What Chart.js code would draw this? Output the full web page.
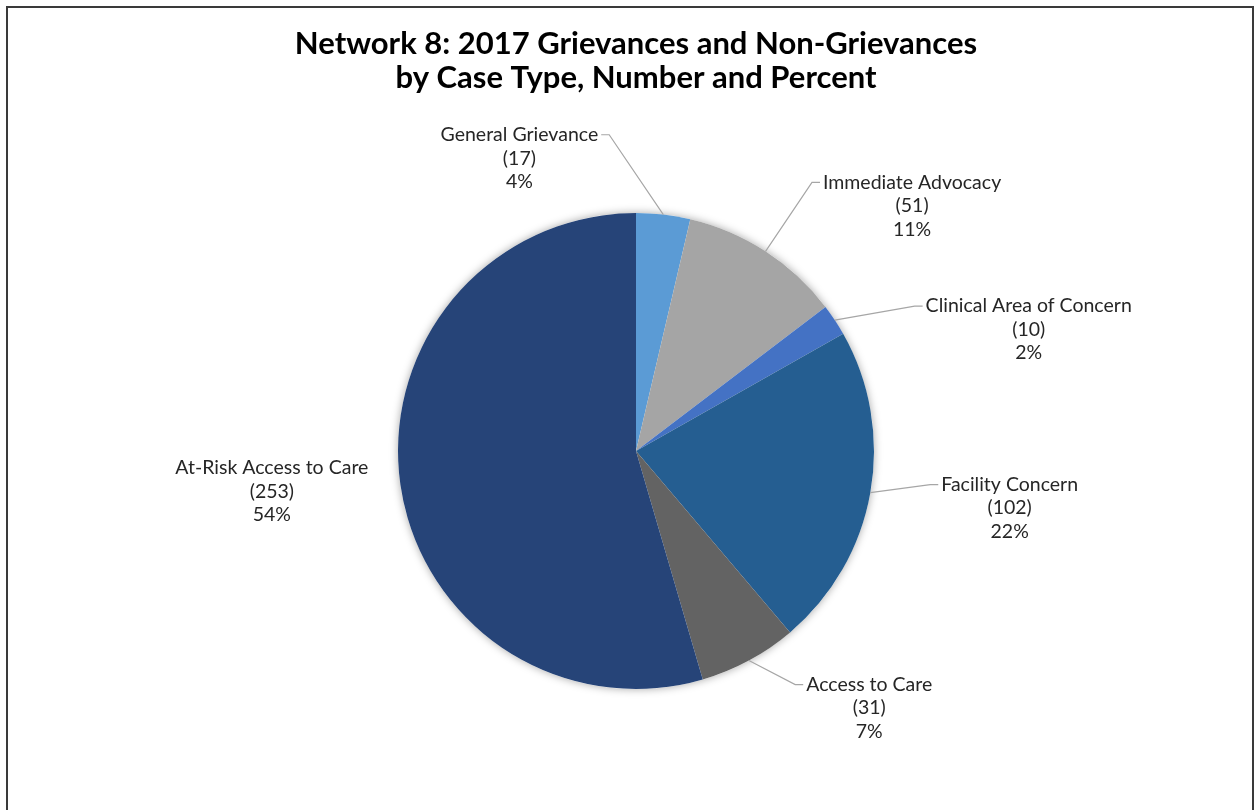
<!DOCTYPE html>
<html lang="en">
<head>
    <meta charset="UTF-8">
    <title>Network 8: 2017 Grievances and Non-Grievances</title>
    <script src="https://cdn.jsdelivr.net/npm/chart.js"></script>
    <style>
        html, body { margin: 0; padding: 0; background: #fff; }
        #wrap { position: relative; width: 1256px; height: 810px; }
    </style>
</head>
<body>
    <div id="wrap"><canvas id="caseChart" width="1256" height="810"></canvas></div>

    <script>
        // data
        const caseTypes = ['General Grievance', 'Immediate Advocacy', 'Clinical Area of Concern',
                           'Facility Concern', 'Access to Care', 'At-Risk Access to Care'];
        const caseCounts = [17, 51, 10, 102, 31, 253];
        const casePercents = ['4%', '11%', '2%', '22%', '7%', '54%'];
        const sliceColors = ['#5b9bd5', '#a5a5a5', '#4472c4', '#255e91', '#636363', '#264478'];

        // label centres, in units of the pie radius from the pie centre
        const labelSpots = [
            [-0.49, -1.23], [1.16, -1.03], [1.65, -0.51],
            [1.57, 0.24], [0.98, 1.08], [-1.53, 0.17]
        ];
        const hasLeader = [true, true, true, true, true, false];
        const FONT = 'Lato, "Open Sans", sans-serif';

        const frame = {
            id: 'frame',
            beforeDraw(chart) {
                const ctx = chart.ctx;
                ctx.save();
                ctx.strokeStyle = '#3a3a3a';
                ctx.lineWidth = 2;
                ctx.strokeRect(7, 7, 1246, 900);
                ctx.restore();
            },
            beforeDatasetsDraw(chart) {
                // soft shadow under the pie
                const arc = chart.getDatasetMeta(0).data[0];
                const ctx = chart.ctx;
                ctx.save();
                ctx.shadowColor = 'rgba(0,0,0,0.35)';
                ctx.shadowBlur = 9;
                ctx.fillStyle = '#fff';
                ctx.beginPath();
                ctx.arc(arc.x, arc.y, arc.outerRadius, 0, Math.PI * 2);
                ctx.fill();
                ctx.restore();
            }
        };

        const sliceLabels = {
            id: 'sliceLabels',
            afterDatasetsDraw(chart) {
                const ctx = chart.ctx;
                const arcs = chart.getDatasetMeta(0).data;
                ctx.save();
                ctx.font = '19.5px ' + FONT;
                ctx.textAlign = 'center';
                ctx.textBaseline = 'middle';
                arcs.forEach((arc, i) => {
                    const R = arc.outerRadius;
                    const cx = arc.x + labelSpots[i][0] * R;
                    const cy = arc.y + labelSpots[i][1] * R;
                    const lh = 23.5;
                    const lines = [caseTypes[i], '(' + caseCounts[i] + ')', casePercents[i]];
                    const firstY = cy - lh;
                    if (hasLeader[i]) {
                        const mid = (arc.startAngle + arc.endAngle) / 2;
                        const ex = arc.x + Math.cos(mid) * R;
                        const ey = arc.y + Math.sin(mid) * R;
                        const halfW = ctx.measureText(lines[0]).width / 2;
                        const toRight = cx > ex;
                        const tx = toRight ? cx - halfW - 3 : cx + halfW + 3;
                        const sx = toRight ? tx - 8 : tx + 8;
                        ctx.strokeStyle = '#a6a6a6';
                        ctx.lineWidth = 1.2;
                        ctx.beginPath();
                        ctx.moveTo(ex, ey);
                        ctx.lineTo(sx, firstY);
                        ctx.lineTo(tx, firstY);
                        ctx.stroke();
                    }
                    ctx.fillStyle = '#262626';
                    lines.forEach((t, k) => ctx.fillText(t, cx, firstY + k * lh));
                });
                ctx.restore();
            }
        };

        new Chart(document.getElementById('caseChart'), {
            type: 'pie',
            data: {
                labels: caseTypes,
                datasets: [{
                    data: caseCounts,
                    backgroundColor: sliceColors,
                    borderWidth: 0
                }]
            },
            options: {
                responsive: false,
                animation: false,
                layout: { padding: { left: 16, right: 0, top: 0, bottom: 121 } },
                plugins: {
                    legend: { display: false },
                    tooltip: { enabled: false },
                    title: {
                        display: true,
                        text: ['Network 8: 2017 Grievances and Non-Grievances',
                               'by Case Type, Number and Percent'],
                        color: '#000',
                        font: { family: FONT, size: 31, weight: 'bold', lineHeight: 1.1 },
                        padding: { top: 27, bottom: 117.8 }
                    }
                }
            },
            plugins: [frame, sliceLabels]
        });
    </script>
</body>
</html>
